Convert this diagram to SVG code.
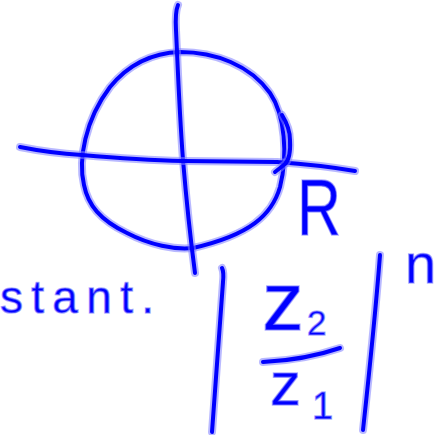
<svg xmlns="http://www.w3.org/2000/svg" xmlns:xlink="http://www.w3.org/1999/xlink" width="439" height="435" viewBox="0 0 439 435">
<style>
.halo{fill:none;stroke:#8080ff;stroke-width:8;stroke-linecap:round;stroke-linejoin:round;opacity:0.55}
.pen{fill:none;stroke:#0000ff;stroke-width:4;stroke-linecap:round;stroke-linejoin:round}
.t{font-family:"Liberation Sans","DejaVu Sans",sans-serif;fill:#0000ff;stroke:#8080ff;stroke-width:1.5;stroke-opacity:0.6}
</style>
<defs>
<path id="circle" d="M180,52 C215,52 250,65 270,93 C285,115 288,155 280,187 C272,215 250,235 193,248 C175,250 150,245 127,233 C100,220 88,205 84,185 C78,160 85,120 110,87 C128,65 150,53 180,52 Z"/>
<path id="vaxis" d="M178,5 Q175,12 176,30 L177,52 Q180,120 183,160 Q188,220 195,273"/>
<path id="haxis" d="M20,147 Q50,153 82,155 Q140,160 183,161 L277,162 Q320,165 355,171"/>
<path id="tick" d="M282,115 Q290,128 290,140 Q291,158 285,164 L275,172"/>
<path id="lbar" d="M222,268 Q224,272 223,282 L212,432"/>
<path id="rbar" d="M380,255 Q375,320 363,430"/>
<path id="frac" d="M263,362 Q305,360 340,348"/>
</defs>
<rect width="439" height="435" fill="#ffffff"/>
<g id="sketch">
<use xlink:href="#circle" class="halo"/><use xlink:href="#circle" class="pen"/>
<use xlink:href="#vaxis" class="halo"/><use xlink:href="#vaxis" class="pen"/>
<use xlink:href="#haxis" class="halo"/><use xlink:href="#haxis" class="pen"/>
<use xlink:href="#tick" class="halo"/><use xlink:href="#tick" class="pen"/>
<use xlink:href="#lbar" class="halo"/><use xlink:href="#lbar" class="pen"/>
<use xlink:href="#rbar" class="halo"/><use xlink:href="#rbar" class="pen"/>
<use xlink:href="#frac" class="halo"/><use xlink:href="#frac" class="pen"/>
</g>
<g id="labels">
<text class="t" x="297" y="235" font-size="80" textLength="44" lengthAdjust="spacingAndGlyphs">R</text>
<text class="t" x="0" y="313" font-size="46" textLength="154" lengthAdjust="spacing">stant.</text>
<text class="t" x="262" y="330" font-size="84">z</text>
<text class="t" x="307" y="335" font-size="35">2</text>
<text class="t" x="270" y="405" font-size="62">z</text>
<text class="t" x="312" y="419" font-size="38">1</text>
<text class="t" x="405" y="283" font-size="56">n</text>
</g>
</svg>
